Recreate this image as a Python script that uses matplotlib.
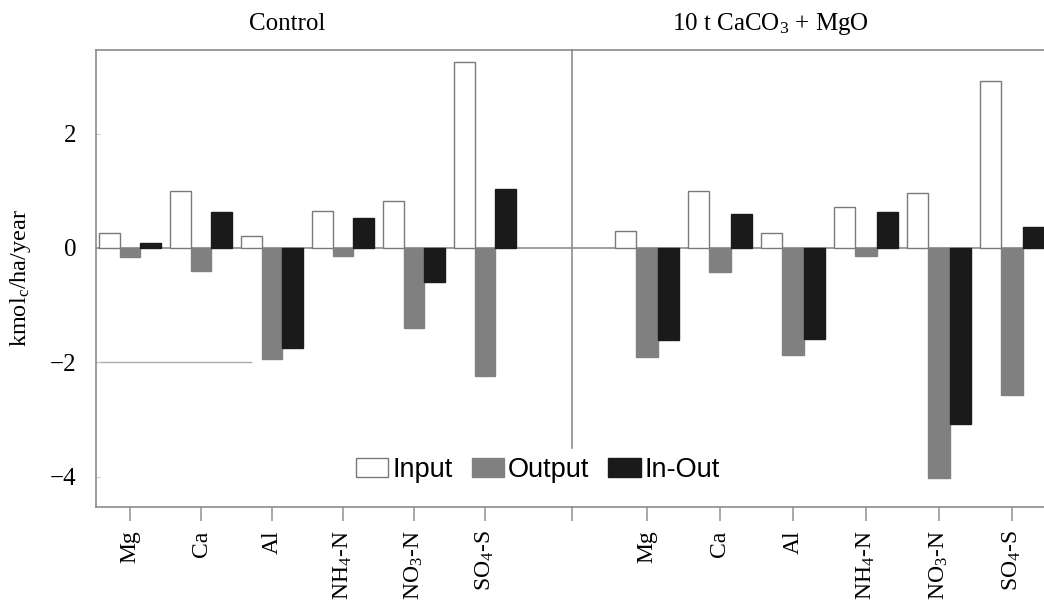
import matplotlib
matplotlib.use("Agg")
import matplotlib.pyplot as plt
from matplotlib.patches import Patch
import numpy as np

plt.rcParams['font.family'] = ['Liberation Serif', 'DejaVu Serif']
plt.rcParams['mathtext.fontset'] = 'custom'
plt.rcParams['mathtext.rm'] = 'Liberation Serif'
plt.rcParams['mathtext.it'] = 'Liberation Serif:italic'

categories = ['Mg', 'Ca', 'Al', r'NH$_4$-N', r'NO$_3$-N', r'SO$_4$-S']
series = ['Input', 'Output', 'In-Out']

control_input = [0.26, 1.00, 0.21, 0.65, 0.82, 3.25]
control_output = [-0.16, -0.40, -1.94, -0.14, -1.40, -2.24]
control_inout = [0.09, 0.63, -1.74, 0.52, -0.59, 1.03]

lime_input = [0.30, 1.00, 0.26, 0.72, 0.96, 2.92]
lime_output = [-1.91, -0.42, -1.87, -0.14, -4.02, -2.57]
lime_inout = [-1.61, 0.59, -1.59, 0.63, -3.08, 0.37]

panel_titles = ['Control', r'10 t CaCO$_3$ + MgO']
yticks = [-4, -2, 0, 2]

W, H = 1044, 606
fig = plt.figure(figsize=(W / 100, H / 100), dpi=100)

def px(x0, y0, x1, y1):
    return [x0 / W, 1 - y1 / H, (x1 - x0) / W, (y1 - y0) / H]

ax1 = fig.add_axes(px(96, 50, 572, 507))
ax2 = fig.add_axes(px(572, 50, 1044, 507), sharey=ax1)

ylim = ((248 - 507) / 57.2, (248 - 50) / 57.2)
edge_gray = '#8c8c8c'
fill_colors = ['white', '#808080', '#1a1a1a']
edge_colors = ['#7a7a7a', '#808080', '#1a1a1a']

def draw(ax, data, xlim, extra_tick=None):
    x = np.arange(len(categories))
    w = 0.29
    for i, vals in enumerate(data):
        ax.bar(x + (i - 1) * w, vals, width=w, color=fill_colors[i],
               edgecolor=edge_colors[i], linewidth=1.0, zorder=3)
    ax.axhline(0, color=edge_gray, lw=1.2, zorder=2)
    ax.set_xlim(*xlim)
    ax.set_ylim(*ylim)
    ticks = list(x)
    labels = list(categories)
    if extra_tick is not None:
        ticks = [extra_tick] + ticks
        labels = [''] + labels
    ax.set_xticks(ticks)
    ax.set_xticklabels(labels, rotation=90, fontsize=17)
    ax.tick_params(axis='x', direction='out', length=10, width=1.2,
                   color='#999999', pad=7)
    for s in ax.spines.values():
        s.set_color(edge_gray)
        s.set_linewidth(1.2)
    ax.spines['right'].set_visible(False)
    ax.set_facecolor('none')

draw(ax1, [control_input, control_output, control_inout],
     (-(130 - 96) / 71, 5 + (572 - 485) / 71))
draw(ax2, [lime_input, lime_output, lime_inout],
     (-(647 - 572) / 73, 5 + (1044 - 1012) / 73), extra_tick=-(647 - 572) / 73)

ax1.set_yticks(yticks)
ax1.set_yticklabels(['\u22124', '\u22122', '0', '2'], fontsize=18)
ax1.tick_params(axis='y', direction='in', length=3, width=0.8,
                color='#cccccc', pad=14)
ax2.tick_params(axis='y', left=False, labelleft=False)
ax2.spines['left'].set_bounds(-3.5, ylim[1])
ax1.plot([ax1.get_xlim()[0], 1.7], [-2, -2], color='#aaaaaa', lw=1.0, zorder=1)

ax1.set_ylabel(r'kmol$_{\mathrm{c}}$/ha/year', fontsize=17.5, labelpad=12)

fig.text(287 / W, 1 - 24 / H, panel_titles[0], ha='center', va='center', fontsize=18)
fig.text(770 / W, 1 - 24 / H, panel_titles[1], ha='center', va='center', fontsize=18)

handles = [Patch(facecolor=fill_colors[i], edgecolor=edge_colors[i], lw=1.0)
           for i in range(3)]
leg = fig.legend(handles, series, loc='center', bbox_to_anchor=(538 / W, 1 - 470 / H),
                 ncol=3, frameon=False, handlelength=1.2, handleheight=0.75,
                 handletextpad=0.15, columnspacing=0.7,
                 prop={'family': 'Liberation Sans', 'size': 19.5})

fig.savefig('out.png', dpi=100)
